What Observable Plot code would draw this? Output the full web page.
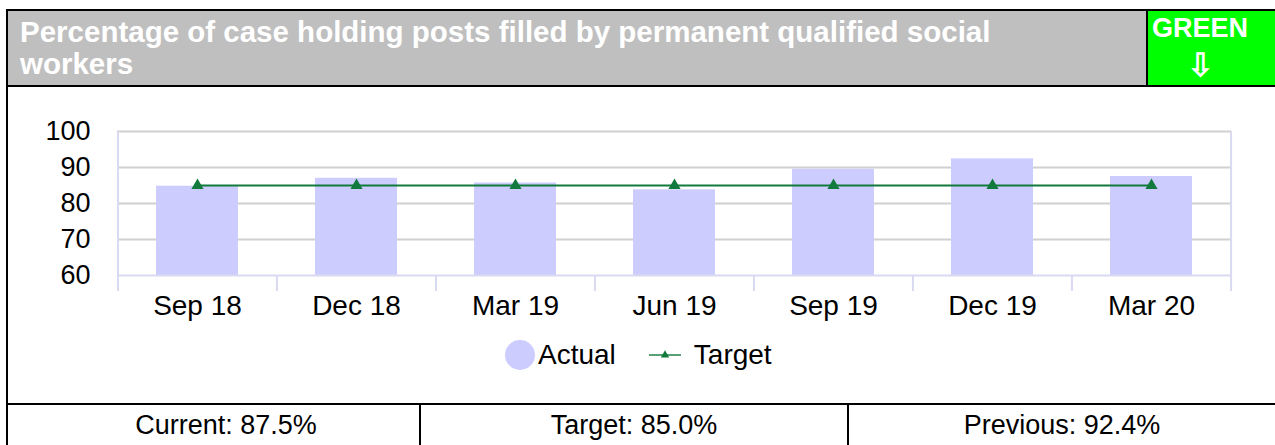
<!DOCTYPE html>
<html>
<head>
<meta charset="utf-8">
<script src="https://cdn.jsdelivr.net/npm/d3@7"></script>
<script src="https://cdn.jsdelivr.net/npm/@observablehq/plot@0.6"></script>
<style>
  html, body { margin: 0; padding: 0; background: #fff; font-family: Arial, "Liberation Sans", sans-serif; }
  #page { position: relative; width: 1275px; height: 445px; overflow: hidden; }
  .abs { position: absolute; }
  .hdr { left: 7px; top: 10px; width: 1268px; height: 75px; background: #bfbfbf; }
  .title { left: 20px; top: 16px; width: 1050px; color: #fff; font-weight: bold; font-size: 29.5px; line-height: 32px; }
  .rag { left: 1148px; top: 11px; width: 104px; height: 74px; color: #fff; font-weight: bold; text-align: center; }
  .ragbg { left: 1148px; top: 10px; width: 127px; height: 75px; background: #00ff00; }
  .line { background: #000; }
  .cell { top: 405px; height: 40px; font-size: 27px; text-align: center; line-height: 40px; color: #000; }
  #chart { left: 0; top: 87px; }
  .legend { top: 338px; left: 503px; display: flex; align-items: center; font-size: 28px; color: #000; }
</style>
</head>
<body>
<div id="page">
  <div class="abs hdr"></div>
  <div class="abs title" id="title"></div>
  <div class="abs ragbg"></div>
  <div class="abs rag"><div id="ragText" style="font-size:27px;margin-top:2px;line-height:30px;"></div><div style="font-size:32px;line-height:34px;margin-top:5px;">&#8681;</div></div>
  <div class="abs line" style="left:6px;top:9px;width:1269px;height:2px;"></div>
  <div class="abs line" style="left:6px;top:85px;width:1269px;height:2px;"></div>
  <div class="abs line" style="left:6px;top:9px;width:2px;height:436px;"></div>
  <div class="abs line" style="left:1146px;top:9px;width:2px;height:77px;"></div>
  <div class="abs line" style="left:6px;top:403px;width:1269px;height:2px;"></div>
  <div class="abs line" style="left:419px;top:403px;width:2px;height:42px;"></div>
  <div class="abs line" style="left:847px;top:403px;width:2px;height:42px;"></div>
  <div class="abs" id="chart"></div>
  <div class="abs legend" id="legend"></div>
  <div class="abs cell" style="left:30px;width:392px;" id="c0"></div>
  <div class="abs cell" style="left:421px;width:426px;" id="c1"></div>
  <div class="abs cell" style="left:849px;width:426px;" id="c2"></div>
</div>
<script>
const titleText = "Percentage of case holding posts filled by permanent qualified social workers";
const ragStatus = "GREEN";
const categories = ["Sep 18", "Dec 18", "Mar 19", "Jun 19", "Sep 19", "Dec 19", "Mar 20"];
const actual = [84.8, 87.0, 85.7, 83.8, 89.5, 92.4, 87.5];
const target = [85, 85, 85, 85, 85, 85, 85];
const yTicks = [60, 70, 80, 90, 100];
const seriesNames = ["Actual", "Target"];
const summary = ["Current: 87.5%", "Target: 85.0%", "Previous: 92.4%"];

document.getElementById("title").textContent = titleText;
document.getElementById("ragText").textContent = ragStatus;
summary.forEach((s, i) => document.getElementById("c" + i).textContent = s);

const data = categories.map((c, i) => ({cat: c, actual: actual[i], target: target[i]}));

const W = 1275, H = 238, mL = 117, mR = 44, mT = 44, mB = 50;
const step = (W - mL - mR) / categories.length;
const barColor = "#ccccff", lineColor = "#117a3c", axisColor = "#d9d9f2", gridColor = "#d0d0d0";

const chart = Plot.plot({
  width: W, height: H,
  marginLeft: mL, marginRight: mR, marginTop: mT, marginBottom: mB,
  style: {fontFamily: "Arial, 'Liberation Sans', sans-serif", color: "#000", background: "transparent"},
  x: {domain: categories, paddingInner: 0.484, paddingOuter: 0.242, label: null},
  y: {domain: [yTicks[0], yTicks[yTicks.length - 1]], label: null},
  marks: [
    Plot.gridY(yTicks.slice(1), {stroke: gridColor, strokeOpacity: 1, strokeWidth: 2}),
    Plot.barY(data, {x: "cat", y: "actual", fill: barColor, clip: true}),
    Plot.ruleY([yTicks[0]], {stroke: axisColor, strokeWidth: 2}),
    Plot.ruleX([categories[0]], {dx: -step / 2, stroke: axisColor, strokeWidth: 2, insetBottom: -16}),
    Plot.ruleX([categories[categories.length - 1]], {dx: step / 2, stroke: axisColor, strokeWidth: 2, insetBottom: -16}),
    Plot.ruleX(categories.slice(1), {dx: -step / 2, y1: yTicks[0], y2: yTicks[0], stroke: axisColor, strokeWidth: 2, insetBottom: -16}),
    Plot.lineY(data, {x: "cat", y: "target", stroke: lineColor, strokeWidth: 2}),
    Plot.dot(data, {x: "cat", y: "target", symbol: "triangle", r: 4.5, fill: lineColor, stroke: "none"}),
    Plot.axisY({ticks: yTicks, tickSize: 0, tickPadding: 27, fontSize: 27, tickFormat: d => d}),
    Plot.axisX({tickSize: 0, tickPadding: 20, fontSize: 28})
  ]
});
document.getElementById("chart").appendChild(chart);

const leg = document.getElementById("legend");
leg.innerHTML = `
  <svg width="34" height="34"><circle cx="17" cy="17" r="15" fill="${barColor}"/></svg>
  <span style="margin-left:1px;">${seriesNames[0]}</span>
  <svg width="36" height="20" style="margin-left:32px;"><line x1="1" y1="10" x2="33" y2="10" stroke="${lineColor}" stroke-width="2" opacity="0.7"/><path d="${d3.symbol(d3.symbolTriangle, 30)()}" transform="translate(17,10)" fill="${lineColor}"/></svg>
  <span style="margin-left:10px;">${seriesNames[1]}</span>`;
</script>
</body>
</html>
